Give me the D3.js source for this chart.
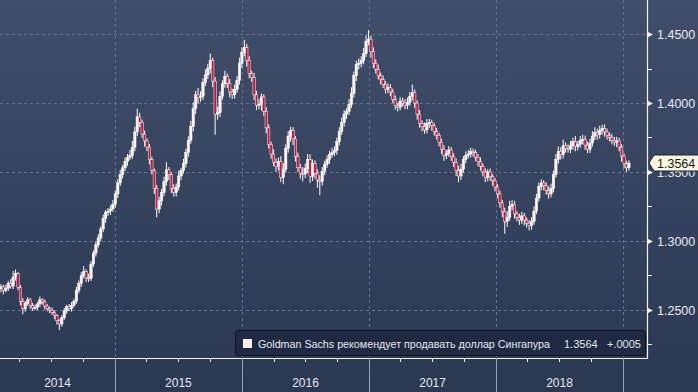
<!DOCTYPE html>
<html><head><meta charset="utf-8">
<script src="https://cdn.jsdelivr.net/npm/d3@7"></script>
<style>html,body{margin:0;padding:0;background:#2b3953;}svg{display:block;}</style>
</head><body>
<script>
// Weekly USD/SGD candles, first week ending 2014-02-07
const startDate = "2014-02-07";
const firstOpen = 1.2650;
const closes = [
1.2665,1.2640,1.2655,1.2690,1.2670,1.2735,1.2760,1.2660,1.2560,1.2505,
1.2545,1.2570,1.2530,1.2510,1.2515,1.2540,1.2570,1.2555,1.2525,1.2505,
1.2495,1.2480,1.2455,1.2420,1.2395,1.2440,1.2490,1.2520,1.2505,1.2530,
1.2560,1.2640,1.2690,1.2745,1.2775,1.2730,1.2725,1.2830,1.2910,1.2970,
1.3020,1.3085,1.3160,1.3205,1.3215,1.3230,1.3265,1.3340,1.3420,1.3480,
1.3530,1.3575,1.3605,1.3620,1.3680,1.3790,1.3900,1.3860,1.3775,1.3725,
1.3680,1.3590,1.3510,1.3380,1.3230,1.3290,1.3350,1.3430,1.3515,1.3480,
1.3380,1.3350,1.3390,1.3470,1.3510,1.3560,1.3640,1.3730,1.3830,1.3960,
1.4060,1.4040,1.4050,1.4150,1.4205,1.4250,1.4310,1.4160,1.3920,1.3930,
1.4050,1.4140,1.4195,1.4145,1.4080,1.4060,1.4100,1.4165,1.4290,1.4370,
1.4405,1.4310,1.4215,1.4185,1.4060,1.3985,1.3990,1.4045,1.3940,1.3820,
1.3700,1.3630,1.3570,1.3540,1.3575,1.3460,1.3520,1.3670,1.3760,1.3800,
1.3740,1.3610,1.3530,1.3490,1.3485,1.3525,1.3590,1.3465,1.3560,1.3490,
1.3440,1.3430,1.3505,1.3555,1.3590,1.3625,1.3640,1.3655,1.3720,1.3795,
1.3860,1.3920,1.3940,1.3990,1.4070,1.4200,1.4280,1.4290,1.4310,1.4360,
1.4450,1.4465,1.4375,1.4290,1.4245,1.4200,1.4170,1.4135,1.4100,1.4115,
1.4080,1.4025,1.3980,1.3970,1.4015,1.4000,1.3985,1.4005,1.4050,1.4075,
1.4000,1.3920,1.3850,1.3830,1.3805,1.3850,1.3860,1.3835,1.3795,1.3765,
1.3715,1.3665,1.3620,1.3635,1.3660,1.3610,1.3570,1.3510,1.3470,1.3520,
1.3590,1.3620,1.3630,1.3650,1.3640,1.3605,1.3575,1.3540,1.3500,1.3460,
1.3500,1.3465,1.3435,1.3390,1.3340,1.3275,1.3210,1.3140,1.3170,1.3250,
1.3265,1.3195,1.3170,1.3150,1.3180,1.3150,1.3125,1.3110,1.3140,1.3215,
1.3310,1.3395,1.3420,1.3400,1.3365,1.3340,1.3380,1.3480,1.3590,1.3650,
1.3625,1.3690,1.3670,1.3665,1.3690,1.3720,1.3685,1.3700,1.3730,1.3735,
1.3695,1.3665,1.3710,1.3760,1.3785,1.3770,1.3800,1.3815,1.3790,1.3765,
1.3750,1.3730,1.3715,1.3725,1.3680,1.3615,1.3560,1.3530,1.3564
];
// upper / lower shadow beyond the body, in pips (0.0001)
const wickUp = [
20,15,25,18,30,45,30,12,18,22,15,20,14,18,22,16,25,12,18,14,
16,20,14,12,10,18,22,14,20,25,18,24,20,26,40,18,30,22,20,25,
28,20,30,18,22,26,30,25,28,35,20,30,25,40,45,38,60,30,20,25,
18,22,20,15,25,30,28,35,55,20,18,30,25,40,20,35,30,28,40,45,
30,50,35,30,40,35,50,20,30,45,35,25,40,20,30,25,35,30,40,35,
55,25,30,20,35,28,40,25,20,30,25,20,35,28,30,40,45,30,35,28,
25,20,30,28,45,35,40,38,30,25,28,35,30,25,30,28,35,30,28,30,
35,30,25,40,45,30,28,35,30,40,42,65,25,30,28,35,22,30,25,28,
22,25,30,20,28,25,30,35,30,60,25,20,30,25,28,35,25,20,22,25,
20,25,30,22,28,20,25,30,35,40,25,28,30,25,20,22,25,30,22,25,
20,25,18,22,20,25,20,30,45,40,30,25,20,25,30,22,20,25,30,35,
30,28,25,20,25,30,35,30,40,35,30,45,25,30,35,28,40,25,30,35,
28,25,30,35,40,30,35,28,30,25,22,28,25,30,22,20,18,20,22
];
const wickDn = [
25,30,15,20,18,22,25,20,30,40,20,18,25,20,15,18,22,20,25,18,
22,20,25,30,45,20,15,22,18,20,15,18,22,25,20,30,25,18,20,25,
20,25,22,30,25,28,20,25,30,22,28,25,30,20,25,30,28,35,30,40,
30,35,28,40,60,30,35,28,30,40,35,30,28,25,30,22,28,30,25,35,
40,45,30,28,25,30,35,45,150,40,30,25,28,35,40,30,28,25,30,35,
30,45,35,30,40,35,30,45,35,40,30,35,28,40,30,35,50,25,30,40,
45,35,30,40,55,30,35,45,30,40,55,100,30,28,25,30,22,25,30,28,
25,30,35,28,25,30,40,35,30,28,25,30,45,35,30,28,35,25,30,28,
30,25,28,30,22,25,28,30,25,30,35,40,30,35,28,25,30,35,30,28,
30,35,40,28,25,30,35,40,45,30,25,28,22,25,30,28,35,30,32,35,
28,30,35,32,30,35,40,90,40,25,30,35,30,35,28,40,30,35,30,25,
22,25,30,35,30,35,25,28,22,30,35,28,30,25,28,30,35,28,25,30,
35,30,28,25,30,35,28,30,35,30,28,30,25,35,30,40,35,30,20
];
const yTicks = [1.25, 1.30, 1.35, 1.40, 1.45];
const yMinorTicks = [1.225, 1.275, 1.325, 1.375, 1.425];
const years = [2014, 2015, 2016, 2017, 2018];
const legendTitle = "Goldman Sachs рекомендует продавать доллар Сингапура";
const lastValue = "1.3564";
const lastChange = "+.0005";

const W = 698, H = 392, axisX = 647, axisY = 358;
const svg = d3.select("body").append("svg").attr("width", W).attr("height", H);
const defs = svg.append("defs");
const grad = defs.append("linearGradient").attr("id","bg").attr("x1",0).attr("y1",0).attr("x2",0).attr("y2",1);
grad.append("stop").attr("offset","0%").attr("stop-color","#414e69");
grad.append("stop").attr("offset","100%").attr("stop-color","#2a3852");
svg.append("rect").attr("width",W).attr("height",H).attr("fill","url(#bg)");

const x = d3.scaleTime().domain([new Date(2015,0,1), new Date(2019,0,1)]).range([115, 623]);
const y = d3.scaleLinear().domain([1.25, 1.45]).range([309.5, 34.3]);

const start = d3.timeParse("%Y-%m-%d")(startDate);
const data = closes.map((c, i) => {
  const o = i === 0 ? firstOpen : closes[i-1];
  return {date: d3.timeDay.offset(start, 7*i), o, c,
          h: Math.max(o, c) + wickUp[i]/10000, l: Math.min(o, c) - wickDn[i]/10000};
});

// grid
const grid = svg.append("g").attr("stroke","#5f7391").attr("stroke-width",1).attr("stroke-dasharray","3,3");
yTicks.forEach(t => grid.append("line").attr("x1",0).attr("x2",axisX).attr("y1",Math.round(y(t))+0.5).attr("y2",Math.round(y(t))+0.5));
const yearBounds = d3.range(2015, 2020).map(yr => new Date(yr,0,1));
yearBounds.forEach(d => grid.append("line").attr("x1",Math.round(x(d))+0.5).attr("x2",Math.round(x(d))+0.5).attr("y1",0).attr("y2",axisY));

// candles
const cw = 2.4;
const cg = svg.append("g");
cg.selectAll("line.w").data(data).join("line")
  .attr("x1", d => x(d.date)).attr("x2", d => x(d.date))
  .attr("y1", d => y(d.h)).attr("y2", d => y(d.l))
  .attr("stroke", "#ffffff").attr("stroke-width", 1);
cg.selectAll("rect.b").data(data).join("rect")
  .attr("x", d => x(d.date) - cw/2)
  .attr("y", d => y(Math.max(d.o, d.c)))
  .attr("width", cw)
  .attr("height", d => Math.max(1, Math.abs(y(d.o) - y(d.c))))
  .attr("fill", d => d.c >= d.o ? "#fff3f3" : "#cb103c")
  .attr("stroke", "#ffffff")
  .attr("stroke-width", 0.5);

// legend box
const lg = svg.append("g");
lg.append("rect").attr("x",235.5).attr("y",330.5).attr("width",410).attr("height",25).attr("rx",3)
  .attr("fill","#1f2a42").attr("stroke","#0c1322").attr("stroke-width",1);
lg.append("rect").attr("x",243).attr("y",339).attr("width",9).attr("height",9).attr("fill","#fdeeed");
const lt = lg.append("g").attr("font-family","Liberation Sans, Arial, sans-serif").attr("font-size",11).attr("fill","#e3e7ef");
lt.append("text").attr("x",258).attr("y",348).attr("textLength",292).attr("lengthAdjust","spacingAndGlyphs").text(legendTitle);
lt.append("text").attr("x",564).attr("y",348).text(lastValue);
lt.append("text").attr("x",607).attr("y",348).text(lastChange);

// axes lines
svg.append("line").attr("x1",0).attr("x2",axisX+0.5).attr("y1",axisY+0.5).attr("y2",axisY+0.5).attr("stroke","#f2f4f8").attr("stroke-width",1.2);
svg.append("line").attr("x1",axisX+0.5).attr("x2",axisX+0.5).attr("y1",0).attr("y2",axisY+0.5).attr("stroke","#f2f4f8").attr("stroke-width",1.2);

// y ticks and labels
yMinorTicks.forEach(t => svg.append("line").attr("x1",axisX).attr("x2",axisX+5)
  .attr("y1",Math.round(y(t))+0.5).attr("y2",Math.round(y(t))+0.5).attr("stroke","#f2f4f8"));
yTicks.forEach(t => {
  const yy = Math.round(y(t))+0.5;
  svg.append("path").attr("d",`M${axisX},${yy-3}L${axisX+6},${yy}L${axisX},${yy+3}Z`).attr("fill","#f2f4f8");
  svg.append("text").attr("x",657).attr("y",yy).attr("dy","0.35em")
    .attr("font-family","Liberation Sans, Arial, sans-serif").attr("font-size",12.5).attr("fill","#e8ebf1")
    .text(d3.format(".4f")(t));
});

// x axis: quarter ticks, year separators, labels
const quarters = d3.timeMonth.every(3).range(new Date(2014,0,1), new Date(2019,0,2)).filter(d => x(d) >= 0 && x(d) <= axisX);
quarters.forEach(d => {
  if (d.getMonth() !== 0) svg.append("line").attr("x1",Math.round(x(d))+0.5).attr("x2",Math.round(x(d))+0.5)
    .attr("y1",axisY).attr("y2",axisY+4).attr("stroke","#f2f4f8");
});
yearBounds.forEach(d => svg.append("line").attr("x1",Math.round(x(d))+0.5).attr("x2",Math.round(x(d))+0.5)
  .attr("y1",axisY).attr("y2",H).attr("stroke","#9aa3b6").attr("stroke-width",1));
years.forEach(yr => {
  const cx = (Math.max(0, x(new Date(yr,0,1))) + x(new Date(yr+1,0,1))) / 2;
  svg.append("text").attr("x", cx).attr("y", 383).attr("dy","0.35em").attr("text-anchor","middle")
    .attr("font-family","Liberation Sans, Arial, sans-serif").attr("font-size",12).attr("fill","#e3e7ef").text(yr);
});

// last price badge
const last = data[data.length-1];
const by = Math.round(y(last.c));
svg.append("path").attr("d",`M${axisX+2},${by}L${axisX+7},${by-8}L${W+2},${by-8}L${W+2},${by+8}L${axisX+7},${by+8}Z`)
  .attr("fill","#fdf5e1").attr("stroke","#1c2230").attr("stroke-width",1);
svg.append("text").attr("x",657).attr("y",by).attr("dy","0.36em")
  .attr("font-family","Liberation Sans, Arial, sans-serif").attr("font-size",12.5).attr("fill","#151a24").text(lastValue);
</script>
</body></html>
